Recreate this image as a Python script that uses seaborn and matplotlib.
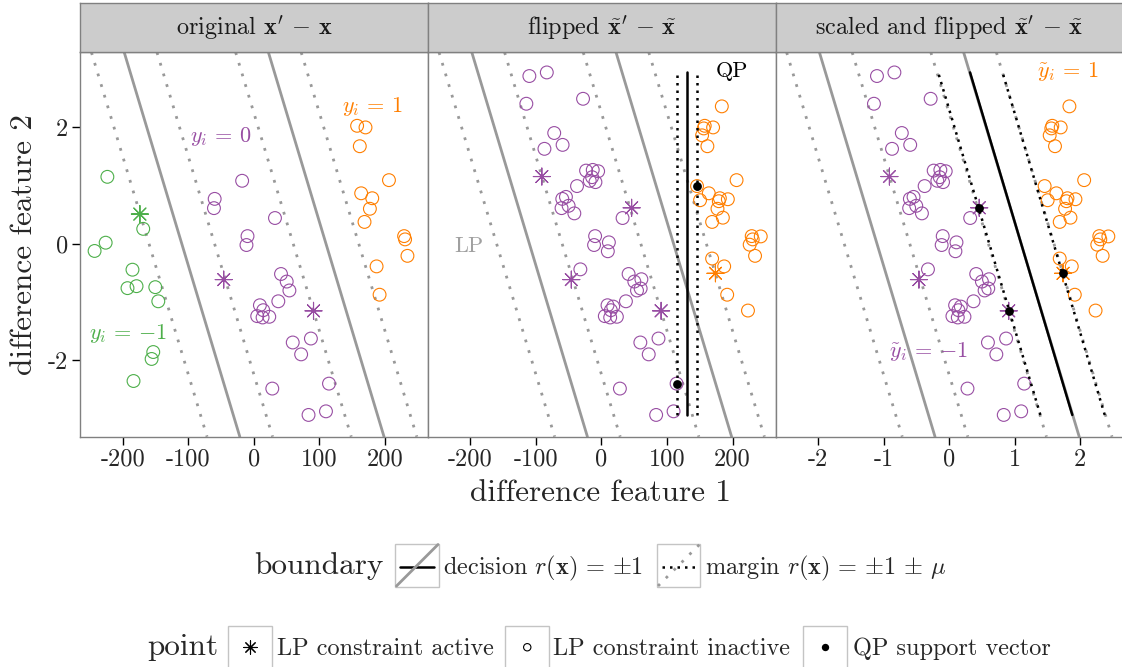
import numpy as np
import pandas as pd
import seaborn as sns
import matplotlib.pyplot as plt
from matplotlib.patches import Rectangle

# difference vectors x' - x in the "original" panel
green_x1 = [-223.5, -173.9, -168.8, -226.1, -243.0, -185.2, -192.8, -179.0, -150.4, -145.8, -153.5, -156.0, -183.6]
green_x2 = [1.149, 0.509, 0.255, 0.017, -0.125, -0.447, -0.764, -0.730, -0.747, -0.990, -1.862, -1.981, -2.360]
green_active = [0, 1, 0, 0, 0, 0, 0, 0, 0, 0, 0, 0, 0]

purple_x1 = [-17.9, -59.8, -60.9, 32.2, -9.7, -11.3, -46.0, 41.4, 50.1, 54.2, 37.3, 9.2,
             14.3, 5.1, 13.3, 23.5, 91.0, 59.3, 87.0, 72.1, 114.6, 28.1, 110.0, 83.4]
purple_x2 = [1.081, 0.770, 0.611, 0.441, 0.130, -0.023, -0.617, -0.521, -0.651, -0.804, -0.990, -1.058,
             -1.143, -1.245, -1.268, -1.256, -1.154, -1.698, -1.630, -1.902, -2.405, -2.490, -2.881, -2.943]
purple_active = [0, 0, 0, 0, 0, 0, 1, 0, 0, 0, 0, 0, 0, 0, 0, 0, 1, 0, 0, 0, 0, 0, 0, 0]

orange_x1 = [157.5, 170.3, 161.6, 206.1, 163.7, 180.6, 177.0, 168.8, 229.2, 230.7, 234.3, 187.2, 191.8]
orange_x2 = [2.026, 1.998, 1.675, 1.092, 0.866, 0.781, 0.600, 0.374, 0.130, 0.074, -0.209, -0.390, -0.877]
orange_active = [0] * 13

# QP support vectors (ids, "-" = flipped copy)
sv_flipped = ["p21", "-g10"]
sv_scaled = ["-p7", "p17", "-g2"]

# LP boundary: x1 + lp_ratio * x2 = c
lp_ratio = 26.7
lp_decision = [-110.0, 110.0]
lp_margin = [-160.0, -60.0, 60.0, 160.0]

# QP boundary in flipped panel (vertical) and scaled panel: x1 + ratio * x2 = c
qp_flip_decision = [130.0]
qp_flip_margin = [114.5, 145.8]
qp_scaled_ratio = 0.265
qp_scaled_decision = [1.10]
qp_scaled_margin = [0.613, 1.595]
x_scale = 100.0

palette = {"neg": "#4DAF4A", "zero": "#984EA3", "pos": "#FF7F00"}
GREY = "#999999"


def frame(prefix, x1, x2, active, grp):
    return pd.DataFrame({"id": [f"{prefix}{i + 1}" for i in range(len(x1))],
                         "x1": x1, "x2": x2, "active": active, "grp": grp})


def flip(df, grp):
    out = df.copy()
    out["id"] = "-" + out["id"]
    out["x1"] = -out["x1"]
    out["x2"] = -out["x2"]
    out["grp"] = grp
    return out


green = frame("g", green_x1, green_x2, green_active, "neg")
purple = frame("p", purple_x1, purple_x2, purple_active, "zero")
orange = frame("o", orange_x1, orange_x2, orange_active, "pos")

original = pd.concat([green, purple, orange], ignore_index=True)
flipped = pd.concat([purple, flip(purple, "zero"), orange, flip(green, "pos")], ignore_index=True)
scaled = flipped.copy()
scaled["x1"] = scaled["x1"] / x_scale

sns.set_style("white")
plt.rcParams["font.family"] = ["cmr10"]
plt.rcParams["mathtext.fontset"] = "cm"
plt.rcParams["axes.unicode_minus"] = False
plt.rcParams["axes.formatter.use_mathtext"] = True

W, H = 1122, 667
fig = plt.figure(figsize=(W / 100, H / 100), dpi=100)


def fx(px):
    return px / W


def fy(py):
    return 1 - py / H


top, bottom, strip_top = 52.3, 436.7, 3.3
lefts = [80.3, 427.9, 775.5]
pw = 347.6
xlims = [(-264.8, 265.5), (-264.8, 265.5), (-2.648, 2.655)]
ylim = (-3.317, 3.289)
titles = [r"original $\mathbf{x}' \,-\, \mathbf{x}$",
          r"flipped $\tilde{\mathbf{x}}' \,-\, \tilde{\mathbf{x}}$",
          r"scaled and flipped $\tilde{\mathbf{x}}' \,-\, \tilde{\mathbf{x}}$"]
datas = [original, flipped, scaled]
scales = [1.0, 1.0, x_scale]
tick_sets = [[-200, -100, 0, 100, 200], [-200, -100, 0, 100, 200], [-2, -1, 0, 1, 2]]
BORDER = "#808080"

axes = []
for k in range(3):
    ax = fig.add_axes([fx(lefts[k]), fy(bottom), fx(pw), fy(top) - fy(bottom)])
    axes.append(ax)
    pts = datas[k]
    s = scales[k]

    # LP boundaries (grey)
    for c in lp_decision:
        ax.axline((c / s, 0), slope=-s / lp_ratio, color=GREY, lw=2.0, zorder=1)
    for c in lp_margin:
        ax.axline((c / s, 0), slope=-s / lp_ratio, color=GREY, lw=2.0,
                  linestyle=(0, (1, 3)), zorder=1)

    circ = pts[pts["active"] == 0]
    sns.scatterplot(data=circ, x="x1", y="x2", hue="grp", palette=palette, marker="o",
                    s=85, linewidth=0.8, legend=False, ax=ax, zorder=3)
    coll = ax.collections[-1]
    coll.set_edgecolors(coll.get_facecolors())
    coll.set_facecolors("none")

    star = pts[pts["active"] == 1]
    sns.scatterplot(data=star, x="x1", y="x2", hue="grp", palette=palette, marker=(8, 2, 0),
                    s=150, linewidth=0.8, legend=False, ax=ax, zorder=3)

    ax.set_xlim(*xlims[k])
    ax.set_ylim(*ylim)
    ax.set_xticks(tick_sets[k])
    ax.set_xticklabels([str(t) for t in tick_sets[k]])
    ax.tick_params(axis="x", direction="out", length=5.5, width=1.0, color="black",
                   labelsize=17.5, pad=3, bottom=True)
    if k == 0:
        ax.set_yticks([-2, 0, 2])
        ax.set_yticklabels(["-2", "0", "2"])
        ax.tick_params(axis="y", direction="out", length=5.5, width=1.0, color="black",
                       labelsize=17.5, pad=3, left=True)
    else:
        ax.set_yticks([])
    for sp in ax.spines.values():
        sp.set_color(BORDER)
        sp.set_linewidth(1.0)

    # strip
    sax = fig.add_axes([fx(lefts[k]), fy(top), fx(pw), fy(strip_top) - fy(top)])
    sax.set_facecolor("#CCCCCC")
    sax.set_xticks([])
    sax.set_yticks([])
    for sp in sax.spines.values():
        sp.set_color(BORDER)
        sp.set_linewidth(1.0)
    sax.text(0.5, 0.5, titles[k], transform=sax.transAxes, ha="center", va="center",
             fontsize=17.5, color="#1A1A1A")

ymin, ymax = flipped["x2"].min(), flipped["x2"].max()

# QP boundaries in flipped panel
ax = axes[1]
for c in qp_flip_decision:
    ax.plot([c, c], [ymin, ymax], color="black", lw=1.8, zorder=4)
for c in qp_flip_margin:
    ax.plot([c, c], [ymin, ymax], color="black", lw=1.8, linestyle=(0, (1, 2)), zorder=4)
sv = flipped[flipped["id"].isin(sv_flipped)]
sns.scatterplot(data=sv, x="x1", y="x2", color="black", s=40, linewidth=0, legend=False, ax=ax, zorder=5)
ax.text(-203, -0.04, "LP", color="#A0A0A0", fontsize=16, ha="center", va="center")
ax.text(199.5, 2.96, "QP", color="black", fontsize=16, ha="center", va="center")

# QP boundaries in scaled panel
ax = axes[2]
yy = np.array([ymin, ymax])
for c in qp_scaled_decision:
    ax.plot(c - qp_scaled_ratio * yy, yy, color="black", lw=1.8, zorder=4)
for c in qp_scaled_margin:
    ax.plot(c - qp_scaled_ratio * yy, yy, color="black", lw=1.8, linestyle=(0, (1, 2)), zorder=4)
sv = scaled[scaled["id"].isin(sv_scaled)]
sns.scatterplot(data=sv, x="x1", y="x2", color="black", s=40, linewidth=0, legend=False, ax=ax, zorder=5)
ax.text(1.806, 2.96, r"$\tilde{y}_i \,=\, 1$", color=palette["pos"], fontsize=16, ha="center", va="center")
ax.text(-0.317, -1.85, r"$\tilde{y}_i \,=\, {-1}$", color=palette["zero"], fontsize=16, ha="center", va="center")

# labels in original panel
ax = axes[0]
ax.text(180.6, 2.354, r"$y_i \,=\, 1$", color=palette["pos"], fontsize=16, ha="center", va="center")
ax.text(-51.2, 1.845, r"$y_i \,=\, 0$", color=palette["zero"], fontsize=16, ha="center", va="center")
ax.text(-191.8, -1.551, r"$y_i \,=\, {-1}$", color=palette["neg"], fontsize=16, ha="center", va="center")

for ax in axes:
    ax.set_xlabel("")
    ax.set_ylabel("")

# axis titles
fig.text(fx(601), fy(493), "difference feature 1", fontsize=22.5, ha="center", va="center")
fig.text(fx(24), fy(244.5), "difference feature 2", fontsize=22.5, ha="center", va="center", rotation=90)

# legend drawn in pixel space
lg = fig.add_axes([0, 0, 1, 1], zorder=-1)
lg.set_xlim(0, W)
lg.set_ylim(H, 0)
lg.axis("off")
KEY_EC = "#C4C4C4"


def key_box(x0, y0, size=43.5):
    lg.add_patch(Rectangle((x0, y0), size, size, fc="white", ec=KEY_EC, lw=1.0))
    return x0 + size / 2, y0 + size / 2


# boundary row
lg.text(254, 574.5, "boundary", fontsize=22.5, ha="left", va="baseline")
cx, cy = key_box(395.5, 543.5)
lg.plot([cx - 17, cx + 17], [cy + 2, cy + 2], color="black", lw=1.8)
lg.plot([396.5, 438], [586, 544.5], color=GREY, lw=2.0)
lg.text(443, 574.5, r"decision $r(\mathbf{x}) \,=\, {\pm 1}$", fontsize=17.5, ha="left", va="baseline")
cx, cy = key_box(657, 543.5)
lg.plot([cx - 17, cx + 17], [cy + 2, cy + 2], color="black", lw=1.8, linestyle=(0, (1, 2)))
lg.plot([658, 699.5], [586, 544.5], color=GREY, lw=2.0, linestyle=(0, (1, 3)))
lg.text(705, 574.5, r"margin $r(\mathbf{x}) \,=\, {\pm 1} \,\pm\, \mu$", fontsize=17.5, ha="left", va="baseline")

# point row
lg.text(147, 655, "point", fontsize=22.5, ha="left", va="baseline")
cx, cy = key_box(228.5, 625.5)
lg.scatter([cx], [cy], marker=(8, 2, 0), s=90, color="black", linewidths=0.8)
lg.text(277, 655, "LP constraint active", fontsize=17.5, ha="left", va="baseline")
cx, cy = key_box(505.5, 625.5)
lg.scatter([cx], [cy], marker="o", s=28, facecolors="none", edgecolors="black", linewidths=0.8)
lg.text(553, 655, "LP constraint inactive", fontsize=17.5, ha="left", va="baseline")
cx, cy = key_box(803.5, 625.5)
lg.scatter([cx], [cy], marker="o", s=28, color="black", linewidths=0)
lg.text(853, 655, "QP support vector", fontsize=17.5, ha="left", va="baseline")

fig.savefig("out.png", dpi=100)
